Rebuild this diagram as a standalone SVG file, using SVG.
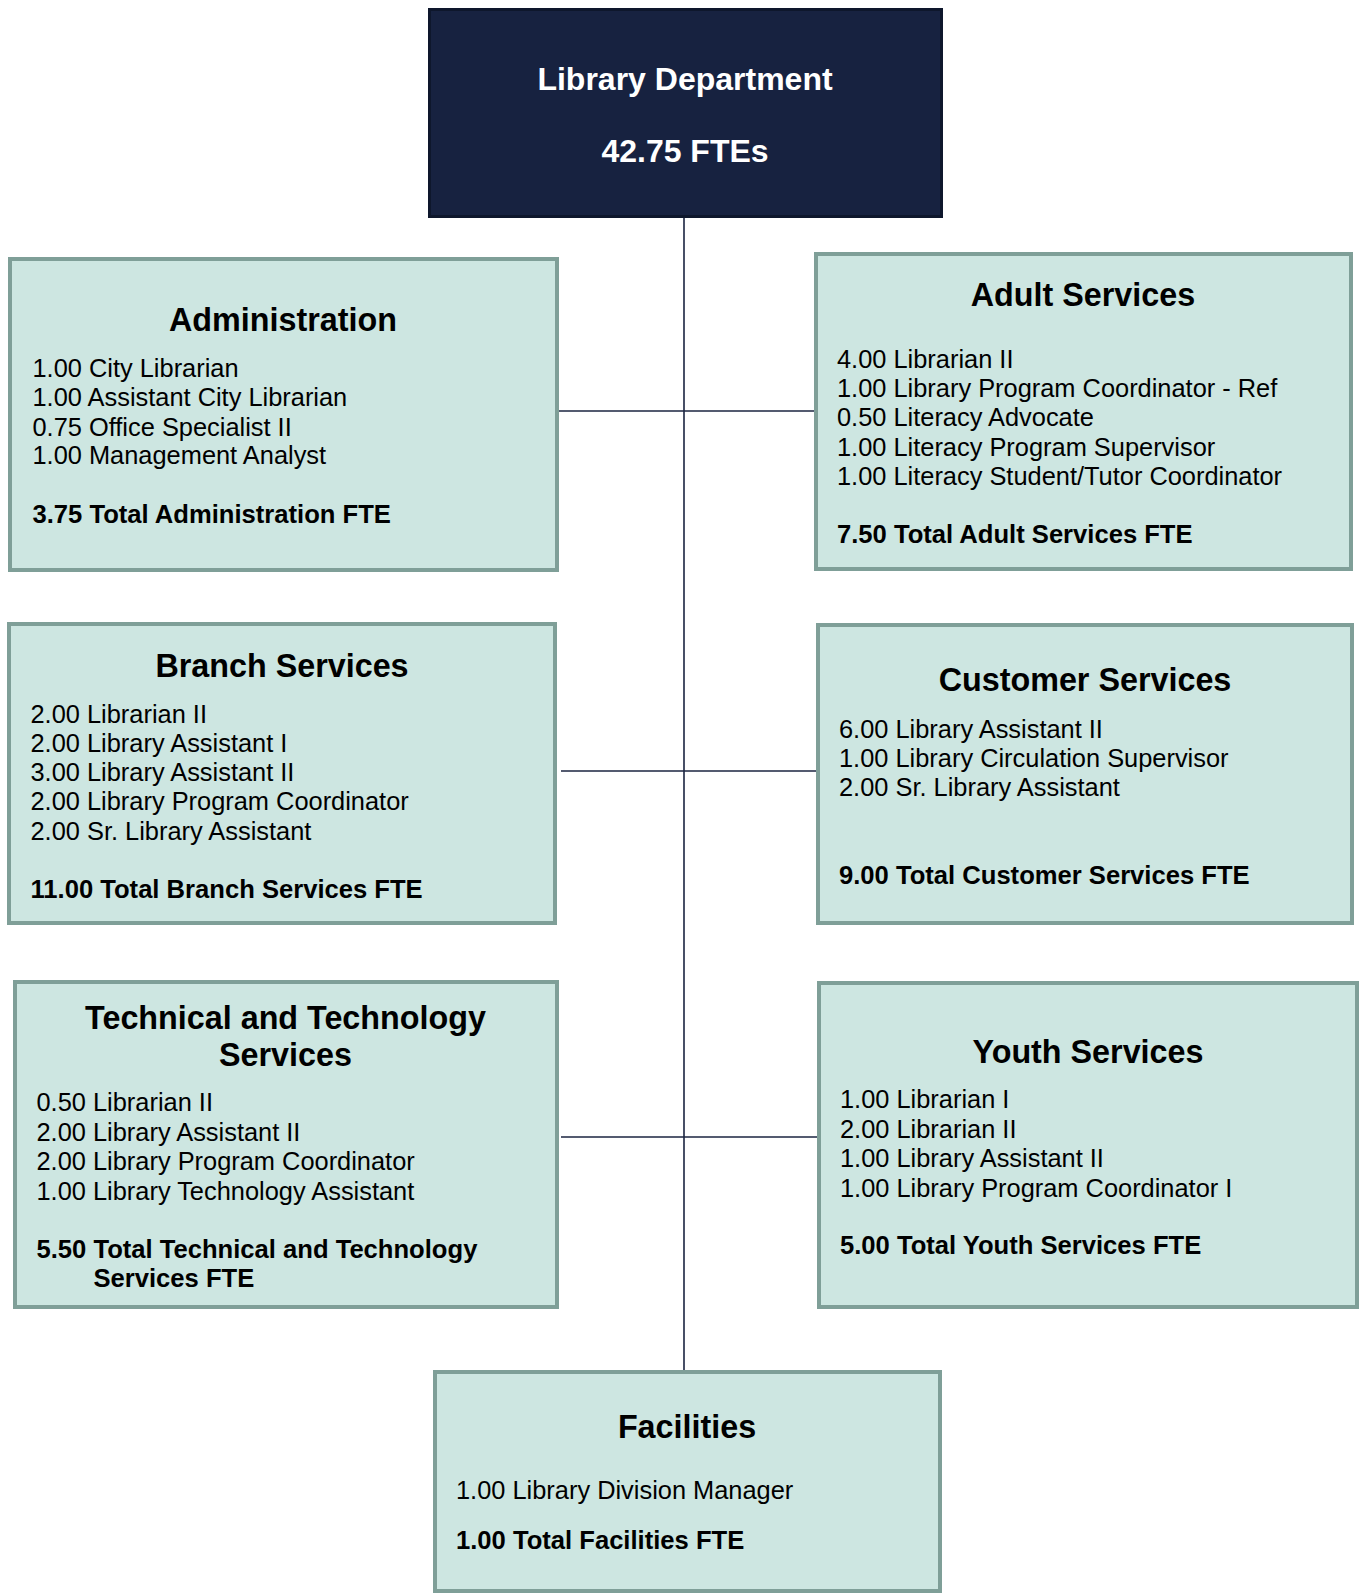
<svg xmlns="http://www.w3.org/2000/svg" width="1360" height="1593" viewBox="0 0 1360 1593">
<style>
.box{fill:#cde6e1;stroke:#7f9f98;stroke-width:4}
.top{fill:#172240;stroke:#0e172c;stroke-width:3}
.ttl{font-family:"Liberation Sans",Arial,sans-serif;font-weight:bold;font-size:32.3px;fill:#000;text-anchor:middle}
.ttw{font-family:"Liberation Sans",Arial,sans-serif;font-weight:bold;font-size:32px;fill:#fff;text-anchor:middle}
.b{font-family:"Liberation Sans",Arial,sans-serif;font-size:25.4px;fill:#000}
.bt{font-family:"Liberation Sans",Arial,sans-serif;font-size:25.6px;font-weight:bold;fill:#000}
.con{stroke:#1b2440;stroke-width:1.6;fill:none}
</style>
<g id="connectors">
<line class="con" x1="684" y1="218" x2="684" y2="1371"/>
<line class="con" x1="559" y1="411" x2="814" y2="411"/>
<line class="con" x1="561" y1="771" x2="816" y2="771"/>
<line class="con" x1="561" y1="1137" x2="817" y2="1137"/>
</g>
<g id="library-department">
<rect class="top" x="429.5" y="9.5" width="512" height="207"/>
<text class="ttw" x="685" y="90">Library Department</text>
<text class="ttw" x="685" y="162">42.75 FTEs</text>
</g>
<g id="administration">
<rect class="box" x="10" y="259" width="547" height="311"/>
<text class="ttl" x="283" y="331">Administration</text>
<text class="b" x="32.5" y="377">1.00 City Librarian</text>
<text class="b" x="32.5" y="406">1.00 Assistant City Librarian</text>
<text class="b" x="32.5" y="435.5">0.75 Office Specialist II</text>
<text class="b" x="32.5" y="464">1.00 Management Analyst</text>
<text class="bt" x="32.5" y="523">3.75 Total Administration FTE</text>
</g>
<g id="adult-services">
<rect class="box" x="816" y="254" width="535" height="315"/>
<text class="ttl" x="1083" y="306">Adult Services</text>
<text class="b" x="837" y="368">4.00 Librarian II</text>
<text class="b" x="837" y="397">1.00 Library Program Coordinator - Ref</text>
<text class="b" x="837" y="425.5">0.50 Literacy Advocate</text>
<text class="b" x="837" y="456">1.00 Literacy Program Supervisor</text>
<text class="b" x="837" y="484.5">1.00 Literacy Student/Tutor Coordinator</text>
<text class="bt" x="837" y="542.5">7.50 Total Adult Services FTE</text>
</g>
<g id="branch-services">
<rect class="box" x="9" y="624" width="546" height="299"/>
<text class="ttl" x="282" y="676.5">Branch Services</text>
<text class="b" x="30.5" y="723">2.00 Librarian II</text>
<text class="b" x="30.5" y="752">2.00 Library Assistant I</text>
<text class="b" x="30.5" y="781">3.00 Library Assistant II</text>
<text class="b" x="30.5" y="809.5">2.00 Library Program Coordinator</text>
<text class="b" x="30.5" y="840">2.00 Sr. Library Assistant</text>
<text class="bt" x="30.5" y="898">11.00 Total Branch Services FTE</text>
</g>
<g id="customer-services">
<rect class="box" x="818" y="625" width="534" height="298"/>
<text class="ttl" x="1085" y="690.5">Customer Services</text>
<text class="b" x="839" y="737.5">6.00 Library Assistant II</text>
<text class="b" x="839" y="767">1.00 Library Circulation Supervisor</text>
<text class="b" x="839" y="796">2.00 Sr. Library Assistant</text>
<text class="bt" x="839" y="883.5">9.00 Total Customer Services FTE</text>
</g>
<g id="technical-technology-services">
<rect class="box" x="15" y="982" width="542" height="325"/>
<text class="ttl" x="285.5" y="1029">Technical and Technology</text>
<text class="ttl" x="285.5" y="1065.5">Services</text>
<text class="b" x="36.5" y="1111">0.50 Librarian II</text>
<text class="b" x="36.5" y="1140.5">2.00 Library Assistant II</text>
<text class="b" x="36.5" y="1170">2.00 Library Program Coordinator</text>
<text class="b" x="36.5" y="1199.5">1.00 Library Technology Assistant</text>
<text class="bt" x="36.5" y="1257.5">5.50 Total Technical and Technology</text>
<text class="bt" x="93.5" y="1287">Services FTE</text>
</g>
<g id="youth-services">
<rect class="box" x="819" y="983" width="538" height="324"/>
<text class="ttl" x="1088" y="1062.5">Youth Services</text>
<text class="b" x="840" y="1108">1.00 Librarian I</text>
<text class="b" x="840" y="1137.5">2.00 Librarian II</text>
<text class="b" x="840" y="1167">1.00 Library Assistant II</text>
<text class="b" x="840" y="1196.5">1.00 Library Program Coordinator I</text>
<text class="bt" x="840" y="1254">5.00 Total Youth Services FTE</text>
</g>
<g id="facilities">
<rect class="box" x="435" y="1372" width="505" height="219"/>
<text class="ttl" x="687" y="1438">Facilities</text>
<text class="b" x="456" y="1499">1.00 Library Division Manager</text>
<text class="bt" x="456" y="1549">1.00 Total Facilities FTE</text>
</g>
</svg>
